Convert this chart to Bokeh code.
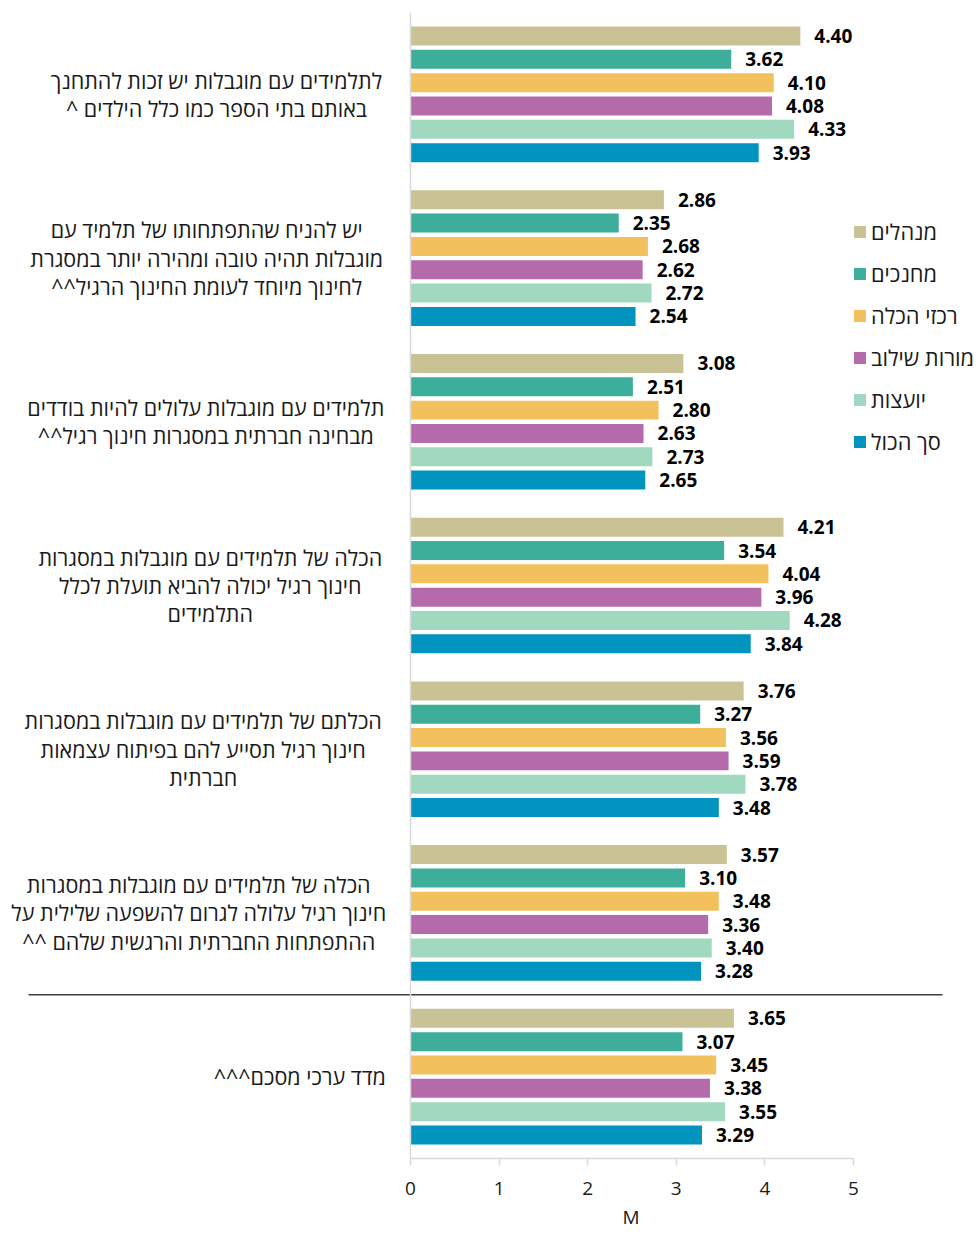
from bokeh.plotting import figure
from bokeh.models import ColumnDataSource, FactorRange, Range1d, Span, Legend, LegendItem, FixedTicker, Title
from bokeh.transform import dodge
from bokeh.core.properties import value
from bokeh.embed import file_html
from bokeh.resources import INLINE

RLM = "\u200f"

categories = [
    "לתלמידים עם מוגבלות יש זכות להתחנך\nבאותם בתי הספר כמו כלל הילדים ^" + RLM,
    "יש להניח שהתפתחותו של תלמיד עם\nמוגבלות תהיה טובה ומהירה יותר במסגרת\nלחינוך מיוחד לעומת החינוך הרגיל^^" + RLM,
    "תלמידים עם מוגבלות עלולים להיות בודדים\nמבחינה חברתית במסגרות חינוך רגיל^^" + RLM,
    "הכלה של תלמידים עם מוגבלות במסגרות\nחינוך רגיל יכולה להביא תועלת לכלל\nהתלמידים",
    "הכלתם של תלמידים עם מוגבלות במסגרות\nחינוך רגיל תסייע להם בפיתוח עצמאות\nחברתית",
    "הכלה של תלמידים עם מוגבלות במסגרות\nחינוך רגיל עלולה לגרום להשפעה שלילית על\nההתפתחות החברתית והרגשית שלהם ^^" + RLM,
    "מדד ערכי מסכם^^^" + RLM,
]

series_names = ["מנהלים", "מחנכים", "רכזי הכלה", "מורות שילוב", "יועצות", "סך הכול"]

principals = [4.40, 2.86, 3.08, 4.21, 3.76, 3.57, 3.65]
homeroom = [3.62, 2.35, 2.51, 3.54, 3.27, 3.10, 3.07]
coordinators = [4.10, 2.68, 2.80, 4.04, 3.56, 3.48, 3.45]
integration = [4.08, 2.62, 2.63, 3.96, 3.59, 3.36, 3.38]
counselors = [4.33, 2.72, 2.73, 4.28, 3.78, 3.40, 3.55]
total = [3.93, 2.54, 2.65, 3.84, 3.48, 3.28, 3.29]

x_ticks = [0, 1, 2, 3, 4, 5]
x_title = "M"

# styles / layout (not data)
colors = ["#C9C295", "#3DAE99", "#F2C15E", "#B46AAB", "#A0D8C0", "#0094BE"]
label_cx = [-2.19, -2.30, -2.31, -2.26, -2.34, -2.39, -1.25]
FONT = "Open Sans"
TXT = "#1a1a1a"
PPU = 88.6            # pixels per unit on the x scale
ZERO_PX = 410         # where 0 sits from the left edge
W, H = 979, 1234

all_series = [principals, homeroom, coordinators, integration, counselors, total]

p = figure(
    width=W, height=H,
    y_range=FactorRange(factors=categories[::-1]),
    x_range=Range1d(-ZERO_PX / PPU, (W - ZERO_PX) / PPU),
    output_backend="svg", toolbar_location=None,
    x_axis_location="below", y_axis_location=None,
    min_border_left=0, min_border_right=0, min_border_top=12, min_border_bottom=76,
)
p.outline_line_color = None
p.xgrid.visible = False
p.ygrid.visible = False

xa = p.xaxis[0]
xa.bounds = (0, 5)
xa.ticker = FixedTicker(ticks=x_ticks)
xa.minor_tick_line_color = None
xa.major_tick_in = 0
xa.major_tick_out = 7
xa.axis_line_color = "#d9d9d9"
xa.major_tick_line_color = "#d9d9d9"
xa.axis_line_width = 1.5
xa.major_tick_line_width = 1.5
xa.major_label_text_font = FONT
xa.major_label_text_font_size = "19px"
xa.major_label_text_color = TXT
xa.major_label_standoff = 16

p.add_layout(Title(text=x_title, align="left", offset=622, standoff=8,
                   text_font=FONT, text_font_size="19px", text_font_style="normal",
                   text_color=TXT), "below")

p.add_layout(Span(location=0, dimension="height", line_color="#d9d9d9", line_width=1.5))

pitch = 0.1425
bar_h = 0.116
items = []
for j, (name, vals, col) in enumerate(zip(series_names, all_series, colors)):
    src = ColumnDataSource(dict(cat=categories, val=vals, lab=["%.2f" % v for v in vals]))
    off = (2.5 - j) * pitch
    r = p.hbar(y=dodge("cat", off, range=p.y_range), left=0, right="val", height=bar_h,
               source=src, fill_color=col, line_color=None)
    p.text(x="val", y=dodge("cat", off, range=p.y_range), text="lab", source=src,
           x_offset=14, text_align="left", text_baseline="middle",
           text_font=value(FONT), text_font_style="bold", text_font_size="19px", text_color="#000000")
    items.append(LegendItem(label=name, renderers=[r]))

lab_src = ColumnDataSource(dict(x=label_cx, cat=categories))
p.text(x="x", y="cat", text="cat", source=lab_src, text_align="center", text_baseline="middle",
       text_font=value(FONT), text_font_size="21.5px", text_color=TXT, text_line_height=0.98)

# separator between the detailed items and the summary index
p.segment(x0=[(28 - ZERO_PX) / PPU], x1=[(942 - ZERO_PX) / PPU], y0=[1], y1=[1],
          line_color="#404040", line_width=1.5)

legend = Legend(items=items, location=(852, 701), orientation="vertical",
                glyph_width=15, glyph_height=15, label_height=32, spacing=10,
                label_standoff=4, padding=0, margin=0,
                label_text_font=FONT, label_text_font_size="21.8px", label_text_color=TXT,
                border_line_alpha=0, background_fill_alpha=0)
p.add_layout(legend, "center")

open("out.html", "w").write(file_html(p, INLINE))
